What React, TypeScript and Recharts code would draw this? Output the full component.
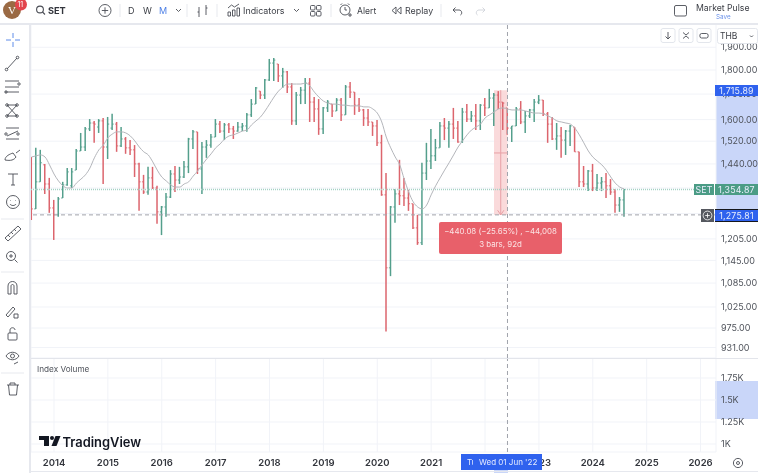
import { Bar, CartesianGrid, ComposedChart, Line, ReferenceArea, ReferenceLine, XAxis, YAxis } from 'recharts'

const FONT = 'Inter, "Noto Sans", sans-serif'
const UP = '#549f8c'
const DOWN = '#dc656d'
const GRID = '#f1f3f8'
const BLUE = '#2f62ee'
const TAG_GREEN = '#4b9c85'

const opens = [1461,1294,1380,1437,1373,1297,1276,1328,1370,1367,1419,1485,1499,1565,1587,1572,1595,1499,1568,1583,1503,1528,1496,1489,1440,1380,1347,1393,1360,1285,1300,1331,1406,1386,1396,1430,1528,1554,1423,1499,1506,1535,1583,1557,1580,1565,1557,1572,1576,1618,1660,1712,1696,1758,1830,1826,1775,1792,1729,1595,1696,1716,1745,1668,1641,1565,1645,1660,1633,1676,1618,1729,1708,1656,1637,1606,1591,1576,1514,1338,1125,1300,1341,1335,1328,1310,1237,1194,1409,1450,1468,1496,1576,1568,1583,1568,1517,1629,1602,1614,1595,1656,1645,1684,1696,1668,1645,1568,1576,1641,1591,1614,1637,1668,1676,1622,1583,1528,1539,1524,1557,1572,1482,1380,1373,1416,1360,1376,1380,1367,1347,1306,1322]
const highs = [1464,1496,1489,1440,1393,1322,1331,1380,1426,1426,1492,1550,1572,1602,1595,1602,1606,1610,1622,1591,1572,1535,1524,1506,1444,1403,1430,1430,1367,1303,1344,1419,1433,1430,1450,1532,1561,1554,1517,1524,1546,1602,1595,1587,1587,1576,1591,1587,1625,1680,1729,1712,1762,1848,1852,1826,1809,1796,1745,1708,1729,1766,1766,1688,1680,1649,1676,1660,1684,1684,1737,1750,1708,1684,1641,1641,1591,1598,1543,1409,1303,1357,1454,1393,1354,1310,1276,1444,1514,1565,1528,1591,1606,1595,1645,1595,1645,1660,1633,1660,1660,1684,1721,1704,1712,1668,1645,1576,1649,1672,1633,1641,1680,1696,1676,1629,1610,1587,1572,1561,1580,1572,1482,1433,1419,1440,1406,1396,1409,1389,1357,1331,1357]
const lows = [1260,1294,1380,1341,1282,1202,1270,1328,1367,1360,1419,1485,1485,1557,1514,1550,1373,1457,1561,1482,1499,1475,1471,1396,1288,1341,1338,1357,1249,1216,1270,1328,1347,1373,1393,1409,1492,1406,1341,1461,1496,1535,1550,1524,1550,1528,1554,1557,1554,1610,1660,1680,1680,1754,1754,1750,1725,1704,1580,1580,1660,1660,1591,1591,1543,1546,1629,1610,1633,1595,1618,1684,1618,1629,1576,1576,1539,1503,1335,967,1103,1252,1306,1303,1288,1234,1188,1188,1386,1423,1450,1496,1524,1496,1528,1514,1514,1591,1591,1561,1561,1614,1645,1576,1641,1561,1543,1517,1576,1583,1550,1606,1591,1660,1614,1514,1524,1489,1461,1471,1503,1482,1363,1363,1350,1350,1350,1350,1328,1338,1282,1285,1270]
const closes = [1294,1380,1444,1373,1297,1276,1325,1370,1413,1413,1485,1499,1565,1587,1583,1595,1499,1583,1583,1503,1528,1496,1489,1440,1380,1347,1393,1360,1285,1300,1331,1406,1386,1396,1430,1528,1554,1423,1499,1506,1535,1583,1557,1580,1565,1557,1572,1576,1618,1660,1725,1696,1758,1830,1843,1775,1792,1729,1595,1696,1716,1745,1668,1641,1565,1645,1668,1633,1676,1618,1729,1708,1656,1637,1606,1591,1576,1514,1338,1125,1300,1341,1335,1328,1310,1237,1194,1409,1450,1468,1496,1576,1568,1583,1568,1517,1629,1602,1614,1595,1656,1645,1684,1696,1668,1664,1568,1576,1641,1591,1614,1637,1668,1676,1622,1583,1528,1539,1524,1557,1576,1482,1380,1373,1416,1360,1376,1380,1367,1347,1306,1322,1354.87]
const averages = [1464,1468,1471,1464,1437,1406,1383,1367,1360,1360,1376,1389,1403,1426,1461,1489,1506,1532,1546,1554,1554,1550,1539,1521,1499,1482,1471,1447,1419,1396,1383,1370,1363,1363,1373,1380,1399,1416,1437,1457,1475,1496,1510,1528,1539,1543,1550,1557,1561,1580,1595,1610,1633,1660,1688,1712,1729,1741,1741,1741,1741,1745,1733,1708,1688,1672,1664,1660,1660,1656,1656,1653,1653,1653,1649,1649,1641,1625,1591,1535,1496,1464,1437,1389,1347,1316,1300,1294,1306,1338,1367,1393,1419,1444,1471,1499,1521,1543,1561,1572,1583,1606,1618,1629,1641,1645,1641,1637,1637,1637,1633,1629,1625,1625,1622,1614,1606,1595,1591,1587,1583,1568,1543,1514,1485,1464,1450,1437,1419,1396,1376,1363,1357]

const yearTicks = [5,17,29,41,53,65,77,89,101,113,125,137,149]
const yearLabels = ['2014','2015','2016','2017','2018','2019','2020','2021','2022','2023','2024','2025','2026']
const priceTicks = [1900,1800,1700,1600,1520,1440,1360,1280,1205,1145,1085,1025,975,931]
const coveredPrices = [1360,1280]
const volumeTicks = [1750,1500,1250,1000]

const lastPrice = 1354.87
const measureHigh = 1715.89
const measureLow = 1275.81
const measureFrom = 103
const measureTo = 106
const measureMid = 1478
const crosshairBar = 106

const rows = highs.map((high, i) => ({
  bar: i,
  open: opens[i],
  high,
  low: lows[i],
  close: closes[i],
  range: [lows[i], high],
  average: averages[i],
}))

const emptyRows = [{ bar: 0, volume: null }]

function formatPrice(v: number) {
  return v.toLocaleString('en-US', { minimumFractionDigits: 2, maximumFractionDigits: 2 })
}

// the 1,360 and 1,280 labels sit under the price tags, only their grid lines show
function formatTick(v: number) {
  return coveredPrices.includes(v) ? '' : formatPrice(v)
}

function formatYear(v: number) {
  return yearLabels[yearTicks.indexOf(v)] ?? ''
}

function OhlcBar(props: any) {
  const { x, y, width, height, payload } = props
  const mid = x + width / 2
  const yAt = (v: number) => y + (height * Math.log(payload.high / v)) / Math.log(payload.high / payload.low)
  const color = payload.close >= payload.open ? UP : DOWN
  return (
    <g stroke={color} fill="none">
      <line x1={mid} x2={mid} y1={y} y2={y + height} strokeWidth={1.5} />
      <line x1={mid - 1.6} x2={mid} y1={yAt(payload.open)} y2={yAt(payload.open)} strokeWidth={0.9} />
      <line x1={mid} x2={mid + 1.6} y1={yAt(payload.close)} y2={yAt(payload.close)} strokeWidth={0.9} />
    </g>
  )
}

function Label({ x, y, w, h, bg, color = '#e9eefc', children, style }: any) {
  return (
    <div
      style={{
        position: 'absolute',
        left: x,
        top: y,
        width: w,
        height: h,
        lineHeight: `${h}px`,
        background: bg,
        color,
        fontSize: 8.8,
        textAlign: 'center',
        letterSpacing: 0.2,
        ...style,
      }}
    >
      {children}
    </div>
  )
}

function ToolText({ x, y, children, size = 9, color = '#3c3f46', weight = 400 }: any) {
  return (
    <text x={x} y={y} fontSize={size} fill={color} fontWeight={weight} fontFamily={FONT}>
      {children}
    </text>
  )
}

function TopBar() {
  const dividers = [120, 187, 217, 331, 441]
  return (
    <svg width={758} height={24} style={{ position: 'absolute', left: 0, top: 0 }} fill="none" stroke="#4a4d55" strokeWidth={0.9}>
      <circle cx={12} cy={10} r={9} fill="#9a6a44" stroke="none" />
      <text x={8} y={14} fontSize={11} fill="#fff" stroke="none" fontFamily="Liberation Serif">V</text>
      <circle cx={21} cy={4.5} r={6} fill="#e2454d" stroke="none" />
      <text x={17.5} y={7} fontSize={7} fill="#fff" stroke="none" fontFamily={FONT}>11</text>
      <circle cx={40} cy={9.5} r={3.4} strokeWidth={1.1} />
      <path d="M42.5 12 L45 14.5" strokeWidth={1.1} />
      <g stroke="none"><ToolText x={48} y={14} size={9.2} weight={700} color="#33363d">SET</ToolText></g>
      <circle cx={105} cy={10.5} r={6} />
      <path d="M101.8 10.5h6.4M105 7.3v6.4" />
      {dividers.map((d) => <path key={d} d={`M${d} 4v13`} stroke="#e4e6ec" />)}
      <g stroke="none">
        <ToolText x={128} y={14}>D</ToolText>
        <ToolText x={143} y={14}>W</ToolText>
        <ToolText x={159} y={14} color="#4c7fe6">M</ToolText>
        <ToolText x={243} y={14} size={8.9}>Indicators</ToolText>
        <ToolText x={357} y={14} size={8.6}>Alert</ToolText>
        <ToolText x={405} y={14} size={8.9}>Replay</ToolText>
        <ToolText x={696} y={11} size={8.7}>Market Pulse</ToolText>
        <ToolText x={716} y={19} size={6.3} color="#6d93ea">Save</ToolText>
      </g>
      <path d="M176 9l2.5 2.5L181 9M294 9l2.5 2.5L299 9" />
      <path d="M199 7v10M197.5 12h1.5M206 5v10M206 8h1.5" />
      <path d="M228 16v-4h2.5v4zM232.5 16v-6h2.5v6zM237 16v-8h2.5v8zM228 8l3.5-3 3 2 4.5-3" />
      <rect x={310.5} y={5.5} width={4.5} height={4.5} rx={1} />
      <rect x={316.5} y={5.5} width={4.5} height={4.5} rx={1} />
      <rect x={310.5} y={11.5} width={4.5} height={4.5} rx={1} />
      <rect x={316.5} y={11.5} width={4.5} height={4.5} rx={1} />
      <circle cx={345} cy={10} r={5} />
      <path d="M345 7v3h2M340.5 5l1.5-1.5M349.5 5L348 3.5M348 15h4M350 13v4" />
      <path d="M396 7l-4 3.5 4 3.5zM401 7l-4 3.5 4 3.5z" />
      <path d="M453 10h6c3 0 3.5 4 1.5 5M453 10l2.5-2.5M453 10l2.5 2.5" />
      <path d="M485 10h-6c-3 0-3.5 4-1.5 5M485 10l-2.5-2.5M485 10l-2.5 2.5" stroke="#cfd2d9" />
      <rect x={674.5} y={5.5} width={12} height={10.5} rx={1.5} />
    </svg>
  )
}

function SideBar() {
  const rules = [219, 272, 373]
  return (
    <svg width={29} height={473} style={{ position: 'absolute', left: 0, top: 0 }} fill="none" stroke="#4a4d55" strokeWidth={0.9}>
      <path d="M13 33v5M13 42v5M6 40h5M15 40h5" stroke="#4c7fe6" />
      <path d="M7 69L17 58" />
      <circle cx={6.5} cy={69.5} r={1.3} />
      <circle cx={17.5} cy={57.5} r={1.3} />
      <path d="M5 81h14M5 87h14M5 92h14" />
      <circle cx={19} cy={84} r={1.2} />
      <circle cx={6} cy={92} r={1.2} />
      <path d="M7 105l10 0M7 105l10 11M17 105L7 116M7 116h10" />
      <circle cx={7} cy={105} r={1.3} />
      <circle cx={17} cy={105} r={1.3} />
      <circle cx={7} cy={116} r={1.3} />
      <circle cx={17} cy={116} r={1.3} />
      <path d="M6 128h13M6 139h13M7 136l11-5" />
      <circle cx={6} cy={134} r={1.2} />
      <circle cx={18} cy={134} r={1.2} />
      <path d="M5 160c0-4 5-6 8-7l3 4c-2 3-5 4-11 3zM16 153l4-3" />
      <path d="M8 174h10M13 174v11M11 185h4" />
      <circle cx={13} cy={202} r={6.5} />
      <path d="M10 204c1 2 5 2 6 0M10.5 200v.5M15.5 200v.5" />
      {rules.map((r) => <path key={r} d={`M1 ${r}h23`} stroke="#e4e6ec" />)}
      <path d="M5 238l13-12 3 3-13 12zM8 235l2 2M11 232l2 2M14 229l2 2" />
      <circle cx={11} cy={256} r={4.5} />
      <path d="M14.5 259.5l3 3M9 256h4M11 254v4" />
      <path d="M8 294v-8c0-6 9-6 9 0v8h-3v-8c0-2-3-2-3 0v8z" />
      <path d="M6 315l7-8 2 2-7 8zM14 314h4v4h-4z" />
      <rect x={8} y={333} width={9} height={7} rx={1} />
      <path d="M10 333v-3c0-3 5-3 5 0" />
      <path d="M6 356c3-5 10-5 13 0c-3 5-10 5-13 0z" />
      <circle cx={12.5} cy={356} r={2} />
      <path d="M14 364l4-2" />
      <path d="M7 385h12M10 385v-2h5v2M8.5 385l1 10h7l1-10" />
    </svg>
  )
}

function ChartButtons() {
  const boxes = [661, 679, 697]
  return (
    <svg width={100} height={20} style={{ position: 'absolute', left: 658, top: 26 }} fill="none" stroke="#4a4d55" strokeWidth={0.9}>
      {boxes.map((b) => <rect key={b} x={b - 658} y={2.5} width={14} height={14} rx={2} fill="#fff" stroke="#e0e3ea" />)}
      <path d="M10 6v7M7.5 10.5L10 13l2.5-2.5" />
      <path d="M25 6.5l3 2.5 3-2.5M25 12.5l3-2.5 3 2.5" />
      <path d="M43.5 7.5h5a1.5 2 0 0 1 0 4.5h-5a1.5 2 0 0 1 0-4.5z" />
      <rect x={59.5} y={2.5} width={40} height={15} rx={2} fill="#fff" stroke="#e0e3ea" />
      <g stroke="none"><text x={62} y={13} fontSize={8.5} fill="#3c3f46" fontFamily={FONT}>THB</text></g>
      <path d="M92 9.5l1.5 1.5 1.5-1.5" />
    </svg>
  )
}

function Logo() {
  return (
    <svg width={110} height={18} style={{ position: 'absolute', left: 38, top: 433 }}>
      <path d="M1 3h10v10H6V7H1z" fill="#131722" />
      <circle cx={14} cy={5} r={2} fill="#131722" />
      <path d="M17.5 3h5l-4 10h-5z" fill="#131722" />
      <text x={24.5} y={13.5} fontSize={12.9} fontWeight={600} fill="#131722" fontFamily={FONT}>TradingView</text>
    </svg>
  )
}

export default function App() {
  return (
    <div style={{ position: 'absolute', left: 0, top: 0, width: 758, height: 473, overflow: 'hidden', background: '#fff', fontFamily: FONT, filter: 'blur(0.4px)' }}>
      <div style={{ position: 'absolute', left: 716, top: 85, width: 42, height: 130, background: '#c9d6f9' }} />
      <div style={{ position: 'absolute', left: 715, top: 381, width: 43, height: 38, background: '#c9d6f9' }} />
      <div style={{ position: 'absolute', left: 494, top: 468, width: 14, height: 5, background: '#c9d6f9' }} />

      <div style={{ position: 'absolute', left: 31, top: 24 }}>
        <ComposedChart width={727} height={334} data={rows} margin={{ top: 0, right: 0, bottom: 0, left: 0 }}>
          <CartesianGrid stroke={GRID} strokeWidth={1} />
          <XAxis dataKey="bar" type="number" domain={[-0.12, 152.44]} ticks={yearTicks} tick={false} axisLine={false} tickLine={false} height={0} allowDataOverflow />
          <YAxis
            orientation="right"
            width={42}
            scale="log"
            type="number"
            domain={[908, 2008]}
            allowDataOverflow
            ticks={priceTicks}
            interval={0}
            axisLine={false}
            tickLine={false}
            tickFormatter={formatTick}
            tick={{ fontSize: 9, fill: '#4f535b', fontFamily: FONT, dx: -3 }}
          />
          <ReferenceArea x1={measureFrom} x2={measureTo} y1={measureLow} y2={measureHigh} fill="#f9d3d5" fillOpacity={0.85} stroke="none" />
          <ReferenceLine y={lastPrice} stroke="#a6d3c5" strokeDasharray="1 1" strokeWidth={1.5} />
          <ReferenceLine y={measureLow} stroke="#a0a3ab" strokeDasharray="4 3" />
          <ReferenceLine x={crosshairBar} stroke="#a0a3ab" strokeDasharray="4 3" />
          <ReferenceLine segment={[{ x: measureFrom, y: measureMid }, { x: measureTo, y: measureMid }]} stroke="#e8a0a5" />
          <ReferenceLine segment={[{ x: 104.5, y: measureHigh }, { x: 104.5, y: measureLow }]} stroke="#e8a0a5" />
          <ReferenceLine segment={[{ x: 103.8, y: 1290 }, { x: 104.5, y: measureLow }]} stroke="#e8a0a5" />
          <ReferenceLine segment={[{ x: 105.2, y: 1290 }, { x: 104.5, y: measureLow }]} stroke="#e8a0a5" />
          <Bar dataKey="range" barSize={2} shape={OhlcBar} isAnimationActive={false} />
          <Line dataKey="average" type="monotone" stroke="#b4b6bb" strokeWidth={1} dot={false} activeDot={false} isAnimationActive={false} />
        </ComposedChart>
      </div>

      <div style={{ position: 'absolute', left: 31, top: 358 }}>
        <ComposedChart width={727} height={113} data={emptyRows} margin={{ top: 0, right: 0, bottom: 0, left: 0 }}>
          <CartesianGrid stroke={GRID} strokeWidth={1} />
          <XAxis
            dataKey="bar"
            type="number"
            domain={[-0.12, 152.44]}
            ticks={yearTicks}
            interval={0}
            height={19}
            axisLine={false}
            tickLine={false}
            tickFormatter={formatYear}
            tick={{ fontSize: 9.5, fill: '#33363d', fontWeight: 600, fontFamily: FONT, dy: -1 }}
            allowDataOverflow
          />
          <YAxis
            orientation="right"
            width={42}
            type="number"
            domain={[909, 1977]}
            allowDataOverflow
            ticks={volumeTicks}
            interval={0}
            axisLine={false}
            tickLine={false}
            tickFormatter={(v: number) => `${v / 1000}K`}
            tick={{ fontSize: 9, fill: '#4f535b', fontFamily: FONT, dx: -3 }}
          />
          <ReferenceLine x={crosshairBar} stroke="#a0a3ab" strokeDasharray="4 3" />
          <Line dataKey="volume" stroke="#b4b6bb" dot={false} isAnimationActive={false} />
        </ComposedChart>
      </div>

      <div style={{ position: 'absolute', left: 0, top: 23, width: 758, height: 2, background: '#e6e8ee' }} />
      <div style={{ position: 'absolute', left: 29, top: 24, width: 2, height: 449, background: '#e6e8ee' }} />
      <div style={{ position: 'absolute', left: 31, top: 358, width: 727, height: 1, background: '#e3e5eb' }} />
      <div style={{ position: 'absolute', left: 31, top: 471, width: 727, height: 1, background: '#e6e8ee' }} />

      <Label x={715} y={85} w={43} h={11} bg={BLUE}>{formatPrice(measureHigh)}</Label>
      <Label x={694} y={184} w={20} h={11} bg={TAG_GREEN}>SET</Label>
      <Label x={715} y={184} w={43} h={11} bg={TAG_GREEN}>{formatPrice(lastPrice)}</Label>
      <Label x={715} y={209} w={43} h={13} bg={BLUE} style={{ borderTop: '1px solid #15171c', borderBottom: '1px solid #15171c', boxSizing: 'border-box', lineHeight: '11px' }}>{formatPrice(measureLow)}</Label>
      <div style={{ position: 'absolute', left: 701, top: 209, width: 13, height: 13, background: '#55585f' }}>
        <svg width={13} height={13} style={{ display: 'block' }} fill="none" stroke="#fff" strokeWidth={0.8}>
          <circle cx={6.5} cy={6.5} r={4.4} />
          <path d="M4.2 6.5h4.6M6.5 4.2v4.6" />
        </svg>
      </div>

      <div style={{ position: 'absolute', left: 439, top: 222, width: 123, height: 32, background: '#e8606a', borderRadius: 2, color: '#fbe3e4', fontSize: 7.9, textAlign: 'center', lineHeight: '13px', paddingTop: 3, boxSizing: 'border-box', whiteSpace: 'nowrap' }}>
        <div>−440.08 (−25.65%) , −44,008</div>
        <div>3 bars, 92d</div>
      </div>

      <div style={{ position: 'absolute', left: 461, top: 454, width: 81, height: 16, background: BLUE, color: '#e6ecff', fontSize: 8, lineHeight: '16px', whiteSpace: 'nowrap', overflow: 'hidden' }}>
        <span style={{ position: 'absolute', left: 6, width: 6, overflow: 'hidden' }}>Tu</span>
        <span style={{ position: 'absolute', left: 18 }}>Wed 01 Jun '22</span>
      </div>

      <div style={{ position: 'absolute', left: 37, top: 363, fontSize: 8.2, color: '#4f535b', lineHeight: '12px' }}>Index Volume</div>
      <Logo />
      <TopBar />
      <SideBar />
      <ChartButtons />
      <svg width={14} height={14} style={{ position: 'absolute', left: 731, top: 456 }} fill="none" stroke="#4a4d55" strokeWidth={0.9}>
        <circle cx={7} cy={7} r={4.6} />
        <circle cx={7} cy={7} r={1.5} />
      </svg>
    </div>
  )
}
